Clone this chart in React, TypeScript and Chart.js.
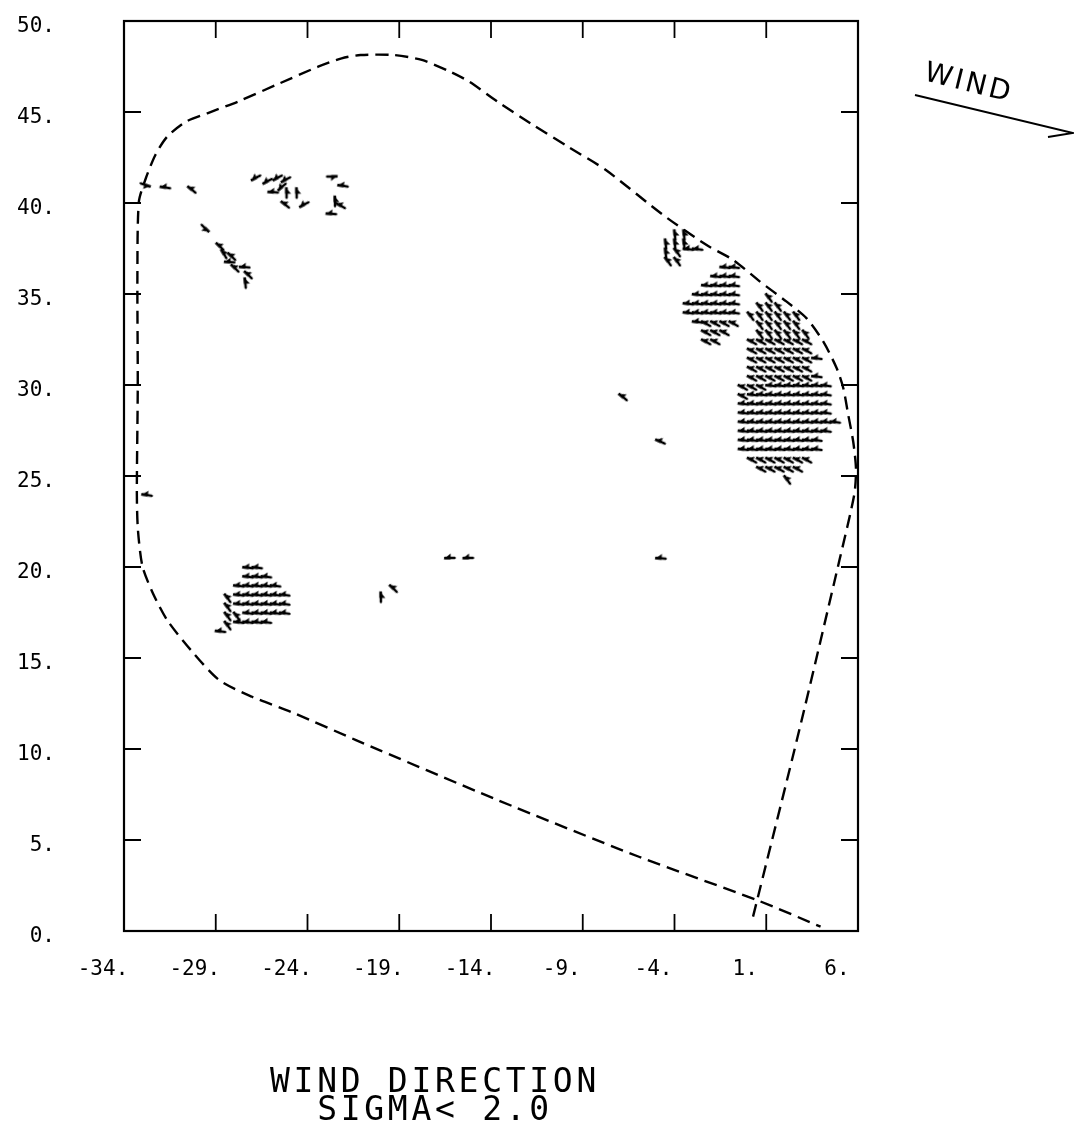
import React, { useEffect, useRef } from 'react';
import { Chart, registerables } from 'chart.js';

Chart.register(...registerables);

// ---------- axis ticks ----------
const xTickValues = [-34, -29, -24, -19, -14, -9, -4, 1, 6];
const yTickValues = [0, 5, 10, 15, 20, 25, 30, 35, 40, 45, 50];

// ---------- dashed boundary (data coordinates) ----------
const boundaryX = [0.28, 2.8, 4.99, 5.8, 5.89, 5.74, 5.47, 5.2, 4.84, 4.11, 3.2, 2.11, 0.66, -0.8, -2.25, -4.62, -7.74, -9.8, -11.85, -13.65, -15.19, -16.22, -17.77, -19.31, -21.11, -22.14, -23.42, -25.73, -27.79, -29.46, -30.62, -31.65, -32.29, -32.81, -33.19, -33.27, -33.25, -33.3, -33.24, -32.99, -32.42, -31.65, -30.36, -28.82, -27.02, -24.71, -21.36, -13.65, -5.94, 0.49, 3.96];
const boundaryY = [0.79, 11.04, 20.38, 24.0, 25.4, 26.88, 28.35, 29.82, 30.92, 32.38, 33.66, 34.58, 35.68, 36.87, 37.69, 39.34, 41.81, 43.09, 44.38, 45.57, 46.67, 47.21, 47.86, 48.13, 48.13, 47.95, 47.49, 46.48, 45.57, 44.93, 44.47, 43.64, 42.64, 41.36, 40.07, 36.0, 30.0, 24.05, 22.03, 20.02, 18.55, 17.09, 15.44, 13.79, 12.87, 11.96, 10.49, 7.20, 4.08, 1.70, 0.24];

// ---------- wind arrows ----------
// direction codes: degrees clockwise from east
const directionCodes: Record<string, number> = { e: 8, r: 30, d: 55, s: 85 };
const gridStep = 0.5;

// each cluster: origin [x of first column, y of first row], rows top->bottom, one char per 0.5 cell
const bigClusterOrigin = [-0.5, 35.0];
const bigClusterRows = [
  '...d.......',
  '..ddd......',
  '.dddddd....',
  '..ddddd....',
  '..dddddd...',
  '.rrrrrrr...',
  '.rrrrrrr...',
  '.rrrrrrre..',
  '.rrrrrrr...',
  '.rrrrrrre..',
  'rrreeeeeee.',
  'reeeeeeeee.',
  'eeeeeeeeee.',
  'eeeeeeeeee.',
  'eeeeeeeeeee',
  'eeeeeeeeee.',
  'eeeeeeeee..',
  'eeeeeeeee..',
  '.rrrrrrr...',
  '..rrrrr....',
  '.....d.....',
];

const midClusterOrigin = [-3.5, 36.5];
const midClusterRows = [
  '....ee',
  '...eee',
  '..eeee',
  '.eeeee',
  'eeeeee',
  'eeeeee',
  '.errrr',
  '..rrr.',
  '..rr..',
];

const topClusterOrigin = [-4.5, 38.5];
const topClusterRows = [
  '.ss.',
  'sss.',
  'sdee',
  'dd..',
];

const lowClusterOrigin = [-29.0, 20.0];
const lowClusterRows = [
  '...ee...',
  '...eee..',
  '..eeeee.',
  '.deeeeee',
  '.deeeeee',
  '.ddeeeee',
  '.deeee..',
  'e.......',
];

// scattered single arrows
const singleX = [-32.6, -32.0, -30.5, -27.04, -26.41, -25.86, -25.41, -26.13, -25.59, -25.14, -24.59, -25.41, -24.41, -22.41, -22.32, -22.5, -22.41, -22.96, -29.4, -28.95, -28.68, -28.31, -28.5, -28.13, -27.68, -27.41, -27.41, -7.0, -5.0, -33.0, -16.5, -15.5, -5.0, -20.0, -19.5];
const singleY = [40.9, 40.9, 40.9, 41.27, 41.08, 41.27, 41.17, 40.62, 40.72, 40.81, 40.81, 40.08, 39.8, 41.45, 40.99, 40.35, 39.98, 39.43, 38.43, 37.79, 37.42, 37.24, 36.78, 36.6, 36.5, 36.23, 35.86, 29.5, 27.0, 24.0, 20.5, 20.5, 20.5, 18.6, 19.0];
const singleAngle = [200, 10, 40, -27, -27, -27, -27, 5, -40, 90, 90, 40, -27, 180, 10, 90, 30, 5, 225, 45, 60, 45, 5, 45, 5, 45, 85, 40, 25, 10, 0, 0, 5, 90, 45];

// ---------- texts ----------
const titleLines = ['WIND DIRECTION', 'SIGMA< 2.0'];
const windLabel = 'WIND';

function expandCluster(origin: number[], rows: string[]) {
  const pts: { x: number; y: number; a: number }[] = [];
  rows.forEach((row, r) => {
    for (let c = 0; c < row.length; c++) {
      const code = row[c];
      if (code === '.') continue;
      pts.push({ x: origin[0] + c * gridStep, y: origin[1] - r * gridStep, a: directionCodes[code] });
    }
  });
  return pts;
}

const arrowPoints = [
  ...expandCluster(bigClusterOrigin, bigClusterRows),
  ...expandCluster(midClusterOrigin, midClusterRows),
  ...expandCluster(topClusterOrigin, topClusterRows),
  ...expandCluster(lowClusterOrigin, lowClusterRows),
  ...singleX.map((x, i) => ({ x, y: singleY[i], a: singleAngle[i] })),
];

function makeArrowGlyph() {
  const c = document.createElement('canvas');
  c.width = 26;
  c.height = 16;
  const g = c.getContext('2d')!;
  g.fillStyle = '#000';
  g.strokeStyle = '#000';
  g.lineWidth = 2.4;
  g.lineCap = 'round';
  // tail at the canvas centre (13, 8)
  g.beginPath();
  g.moveTo(13, 8);
  g.lineTo(22.5, 8);
  g.stroke();
  g.beginPath();
  g.moveTo(11.5, 9.4);
  g.lineTo(18.5, 9.4);
  g.lineTo(18.5, 3.6);
  g.closePath();
  g.fill();
  return c;
}

const framePlugin = {
  id: 'frameAndText',
  afterDraw(chart: any) {
    const { ctx, chartArea } = chart;
    const { left, right, top, bottom } = chartArea;
    const xs = chart.scales.x;
    const ys = chart.scales.y;
    const tickLen = 17;
    ctx.save();
    ctx.strokeStyle = '#000';
    ctx.fillStyle = '#000';
    // frame
    ctx.lineWidth = 2.2;
    ctx.strokeRect(left, top, right - left, bottom - top);
    // inward ticks
    ctx.lineWidth = 1.8;
    ctx.beginPath();
    xTickValues.forEach((v) => {
      const p = xs.getPixelForValue(v);
      ctx.moveTo(p, bottom);
      ctx.lineTo(p, bottom - tickLen);
      ctx.moveTo(p, top);
      ctx.lineTo(p, top + tickLen);
    });
    yTickValues.forEach((v) => {
      const p = ys.getPixelForValue(v);
      ctx.moveTo(left, p);
      ctx.lineTo(left + tickLen, p);
      ctx.moveTo(right, p);
      ctx.lineTo(right - tickLen, p);
    });
    ctx.stroke();

    // title lines
    ctx.font = "33px 'DejaVu Sans Mono', monospace";
    (ctx as any).letterSpacing = '3.7px';
    ctx.textAlign = 'center';
    ctx.textBaseline = 'alphabetic';
    ctx.fillText(titleLines[0], 435, 1092);
    ctx.fillText(titleLines[1], 435, 1120);

    // WIND indicator
    ctx.save();
    ctx.translate(923, 80);
    ctx.rotate((14 * Math.PI) / 180);
    ctx.font = "28px 'DejaVu Sans', sans-serif";
    (ctx as any).letterSpacing = '3px';
    ctx.textAlign = 'left';
    ctx.fillText(windLabel, 0, 0);
    ctx.restore();
    (ctx as any).letterSpacing = '0px';
    ctx.lineWidth = 2;
    ctx.beginPath();
    ctx.moveTo(915, 95);
    ctx.lineTo(1073, 133);
    ctx.lineTo(1048, 137);
    ctx.stroke();
    ctx.restore();
  },
};

export default function App() {
  const canvasRef = useRef<HTMLCanvasElement | null>(null);

  useEffect(() => {
    if (!canvasRef.current) return;
    const glyph = makeArrowGlyph();
    const tickFont = { family: "'DejaVu Sans Mono', monospace", size: 21 };
    const chart = new Chart(canvasRef.current, {
      type: 'scatter',
      data: {
        datasets: [
          {
            data: boundaryX.map((x, i) => ({ x, y: boundaryY[i] })),
            showLine: true,
            borderColor: '#000',
            borderWidth: 2.4,
            borderDash: [13, 7],
            pointRadius: 0,
            tension: 0.25,
            fill: false,
          } as any,
          {
            data: arrowPoints.map((p) => ({ x: p.x, y: p.y })),
            showLine: false,
            pointStyle: glyph,
            pointRadius: 4,
            pointRotation: (c: any) => arrowPoints[c.dataIndex]?.a ?? 0,
          } as any,
        ],
      },
      options: {
        animation: false,
        responsive: true,
        maintainAspectRatio: false,
        events: [],
        layout: { padding: { top: 21, right: 216, left: 0, bottom: 0 } },
        plugins: { legend: { display: false }, tooltip: { enabled: false }, title: { display: false } },
        scales: {
          x: {
            type: 'linear',
            min: -34,
            max: 6,
            afterBuildTicks: (axis: any) => {
              axis.ticks = xTickValues.map((value) => ({ value }));
            },
            afterFit: (axis: any) => {
              axis.height = 210;
              axis.paddingLeft = 0;
              axis.paddingRight = 0;
            },
            grid: { display: false, drawTicks: false },
            border: { display: false },
            ticks: {
              font: tickFont,
              color: '#000',
              padding: 26,
              labelOffset: -21,
              maxRotation: 0,
              autoSkip: false,
              callback: (v: any) => `${v}.`,
            },
          },
          y: {
            type: 'linear',
            min: 0,
            max: 50,
            afterBuildTicks: (axis: any) => {
              axis.ticks = yTickValues.map((value) => ({ value }));
            },
            afterFit: (axis: any) => {
              axis.width = 124;
              axis.paddingTop = 0;
              axis.paddingBottom = 0;
            },
            grid: { display: false, drawTicks: false },
            border: { display: false },
            ticks: {
              font: tickFont,
              color: '#000',
              padding: 69,
              labelOffset: 6,
              autoSkip: false,
              callback: (v: any) => `${v}.`,
            },
          },
        },
      } as any,
      plugins: [framePlugin],
    });
    return () => chart.destroy();
  }, []);

  return (
    <div style={{ position: 'fixed', left: 0, top: 0, width: 1074, height: 1141, background: '#fff' }}>
      <canvas ref={canvasRef} />
    </div>
  );
}
